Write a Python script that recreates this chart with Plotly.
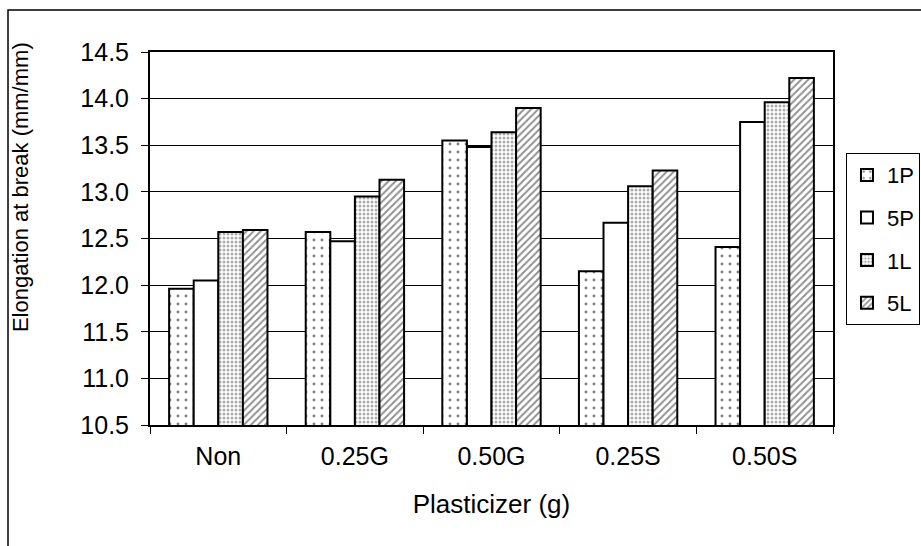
import plotly.graph_objects as go

categories = ["Non", "0.25G", "0.50G", "0.25S", "0.50S"]
series_names = ["1P", "5P", "1L", "5L"]
values_1p = [11.96, 12.57, 13.55, 12.15, 12.41]
values_5p = [12.05, 12.47, 13.48, 12.67, 13.75]
values_1l = [12.57, 12.95, 13.64, 13.06, 13.96]
values_5l = [12.59, 13.13, 13.90, 13.23, 14.22]
y_ticks = [10.5, 11.0, 11.5, 12.0, 12.5, 13.0, 13.5, 14.0, 14.5]

FONT = "Liberation Sans, Arial, sans-serif"

patterns = {
    "1P": dict(shape=".", size=8, solidity=0.1, fgcolor="#000000", bgcolor="#ffffff", fillmode="overlay"),
    "5P": dict(shape="", bgcolor="#ffffff"),
    "1L": dict(shape=".", size=4, solidity=0.45, fgcolor="#5a5a5a", bgcolor="#ffffff", fillmode="overlay"),
    "5L": dict(shape="/", size=5, solidity=0.4, fgcolor="#222222", bgcolor="#ffffff", fillmode="overlay"),
}

fig = go.Figure()
for name, vals in zip(series_names, [values_1p, values_5p, values_1l, values_5l]):
    fig.add_trace(go.Bar(
        x=categories, y=vals, name=name, legendgroup=name,
        marker=dict(color="#ffffff", pattern=patterns[name],
                    line=dict(color="#000000", width=2)),
    ))

# Outer frame of the chart
fig.add_shape(type="rect", xref="paper", yref="paper",
              x0=-0.2079, x1=1.3, y0=-0.5, y1=1.1126,
              line=dict(color="#000000", width=1.5), fillcolor="rgba(0,0,0,0)", layer="below")

# Vertical axis title
fig.add_annotation(text="Elongation at break (mm/mm)", textangle=-90,
                   xref="paper", yref="paper", x=-0.1903, y=0.638,
                   xanchor="center", yanchor="middle", showarrow=False,
                   font=dict(family=FONT, size=22, color="#000000"))

fig.update_layout(
    width=921, height=546,
    margin=dict(l=150, r=88, t=52, b=121, autoexpand=False),
    paper_bgcolor="#ffffff", plot_bgcolor="#ffffff",
    font=dict(family=FONT, color="#000000", size=25),
    barmode="group", bargap=0.28, bargroupgap=0,
    showlegend=True,
    legend=dict(x=1.019, y=0.729, xanchor="left", yanchor="top",
                bgcolor="#ffffff", bordercolor="#000000", borderwidth=1,
                font=dict(family=FONT, size=22, color="#000000"),
                traceorder="grouped", tracegroupgap=11, itemwidth=30),
    xaxis=dict(
        title=dict(text="Plasticizer (g)", font=dict(size=26), standoff=26),
        showline=True, linecolor="#000000", linewidth=2, mirror=True,
        ticks="outside", ticklen=7, tickcolor="#000000", tickson="boundaries",
        tickfont=dict(size=25), ticklabelstandoff=8,
        showgrid=False,
    ),
    yaxis=dict(
        range=[10.5, 14.5], tickvals=y_ticks,
        ticktext=[f"{v:.1f}" for v in y_ticks],
        showline=True, linecolor="#000000", linewidth=2, mirror=True,
        ticks="outside", ticklen=7, tickcolor="#000000",
        tickfont=dict(size=25), ticklabelstandoff=7,
        showgrid=True, gridcolor="#000000", gridwidth=1,
        zeroline=False,
    ),
)

fig.write_html("out.html")
